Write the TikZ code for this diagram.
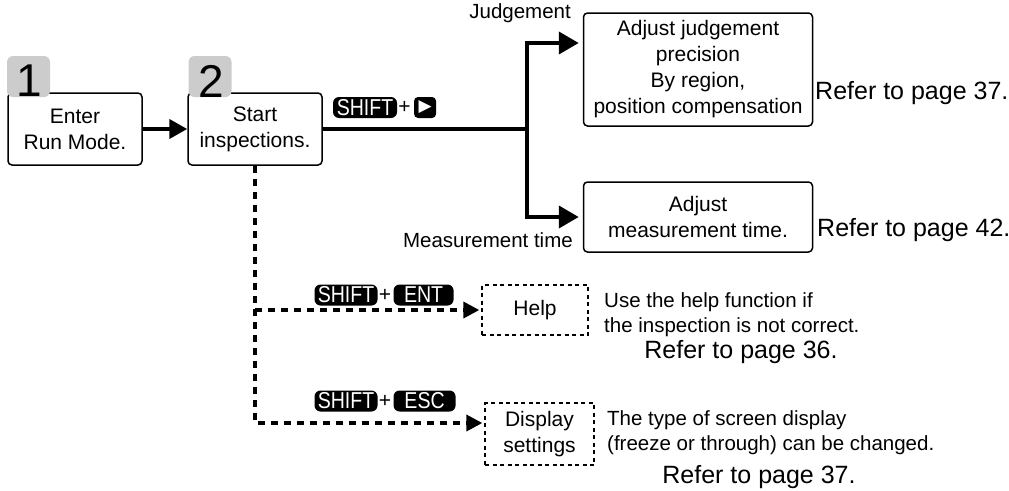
\documentclass[tikz,border=0pt]{standalone}
\usepackage{fontspec}
\setmainfont{Liberation Sans}
\newfontfamily\symfont{DejaVu Sans}
\usetikzlibrary{arrows.meta, positioning, shapes.misc}

\newcommand{\keytext}[1]{\scalebox{0.85}[1]{#1}}

\begin{document}
\begin{tikzpicture}[x=1pt, y=-1pt,
    box/.style={rectangle, draw, line width=1.5pt, rounded corners=4pt, fill=white,
                align=center, inner sep=0pt, font=\fontsize{21}{26}\selectfont},
    dbox/.style={rectangle, draw, line width=1.3pt, dash pattern=on 4pt off 3.5pt,
                 align=center, inner sep=0pt, font=\fontsize{21}{26}\selectfont},
    tab/.style={rectangle, fill=gray!40, rounded corners=6pt, minimum width=43pt, minimum height=41pt},
    num/.style={inner sep=0pt, font=\fontsize{46}{46}\selectfont},
    key/.style={rectangle, fill=black, text=white, rounded corners=6pt, inner sep=1pt,
                minimum height=21pt, font=\fontsize{23}{23}\selectfont},
    plus/.style={inner sep=1pt, font=\fontsize{21}{21}\selectfont},
    txt/.style={align=left, inner sep=0pt, font=\fontsize{20.5}{25}\selectfont},
    ref/.style={inner sep=0pt, font=\fontsize{25}{30}\selectfont},
    arr/.style={-{Triangle[length=20pt, width=22pt]}, line width=4pt},
    dotarr/.style={-{Triangle[length=16pt, width=16pt]}, line width=3.5pt, dash pattern=on 7pt off 6pt},
]
\useasboundingbox (0,0) rectangle (1009,490);

\node[box, minimum width=134pt, minimum height=72pt] (run)   at (75,129)  {Enter\\Run Mode.};
\node[box, minimum width=134pt, minimum height=72pt] (start) at (255,129) {Start\\inspections.};
\node[tab] (tab1) at (28.5,76.5) {};
\node[tab] (tab2) at (210,76.5) {};
\node[num] (n1) at (29.5,81) {1};
\node[num] (n2) at (211.5,81) {2};

\node[box, minimum width=229pt, minimum height=113pt] (judge) at (698,69.5)
    {Adjust judgement\\precision\\By region,\\position compensation};
\node[box, minimum width=229pt, minimum height=70pt] (mtime) at (698,217)
    {Adjust\\measurement time.};
\node[dbox, minimum width=106pt, minimum height=50pt] (help) at (535,310) {Help};
\node[dbox, minimum width=109pt, minimum height=62pt] (disp) at (539.5,434) {Display\\settings};

\node[txt, anchor=east] (ljudge) at (571,13)  {Judgement};
\node[txt, anchor=east] (lmtime) at (573,240) {Measurement time};
\node[ref, anchor=west] (r37a) at (815,93)  {Refer to page 37.};
\node[ref, anchor=west] (r42)  at (817,230) {Refer to page 42.};
\node[txt, anchor=west] (dhelp) at (604,314.5) {Use the help function if\\the inspection is not correct.};
\node[ref] (r36) at (741,352) {Refer to page 36.};
\node[txt, anchor=west] (ddisp) at (607,432.5) {The type of screen display\\(freeze or through) can be changed.};
\node[ref] (r37b) at (759,477) {Refer to page 37.};

\node[key, minimum width=64pt] (sk1) at (365,107.5) {\keytext{SHIFT}};
\node[plus, right=0pt of sk1] (p1) {+};
\node[key, minimum width=22pt, rounded corners=4pt, right=2pt of p1, font=\symfont\fontsize{17}{17}\selectfont] (rk) {▶};
\node[key, minimum width=63pt] (sk2) at (346,295) {\keytext{SHIFT}};
\node[plus, right=0pt of sk2] (p2) {+};
\node[key, minimum width=60pt, right=1pt of p2] (ek) {\keytext{ENT}};
\node[key, minimum width=63pt] (sk3) at (346,401) {\keytext{SHIFT}};
\node[plus, right=0pt of sk3] (p3) {+};
\node[key, minimum width=62pt, right=1pt of p3] (xk) {\keytext{ESC}};

\coordinate (jn)   at (527,129);
\coordinate (jtop) at (527,43);
\coordinate (dv)   at (255,423);

\draw[-{Triangle[length=18pt, width=19pt]}, line width=4pt] (run) -- (start);
\draw[line width=4pt] (start) -- (jn);
\draw[arr, shorten >=4pt] (jn) -- (jtop) -- (jtop -| judge.west);
\draw[arr, shorten >=4pt] (jn) |- (mtime.west);
\draw[dotarr, shorten >=2pt] (start.south) -- (dv) -- (dv -| disp.west);
\draw[dotarr, shorten >=2pt] (start.south |- help.west) -- (help.west);
\end{tikzpicture}
\end{document}
